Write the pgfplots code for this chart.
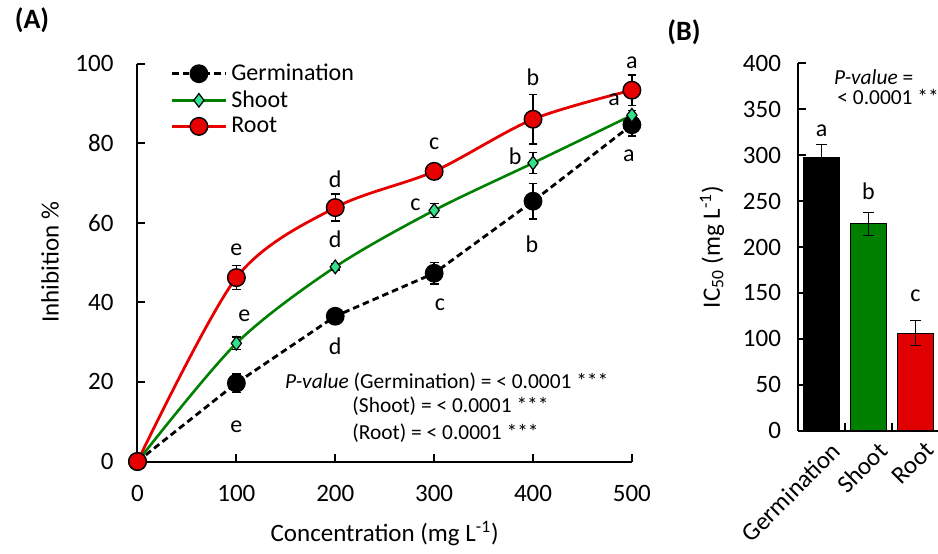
\documentclass[border=0pt]{standalone}
\usepackage{fontspec}
\setmainfont{Carlito}
\usepackage{pgfplots}
\pgfplotsset{compat=1.18}
\definecolor{rootred}{HTML}{E60000}
\definecolor{shootgreen}{HTML}{008000}
\definecolor{diamondfill}{HTML}{33E08C}
\definecolor{barred}{HTML}{E00000}
\newcommand\tk{\fontsize{12.5}{15}\selectfont}
\newcommand\lt{\fontsize{12}{14}\selectfont}
\newcommand\pv{\fontsize{10.7}{13}\selectfont}

\begin{document}
\begin{tikzpicture}
% ---- panel A: inhibition curves
\begin{axis}[
  at={(68.75pt,45.75pt)}, anchor=south west,
  scale only axis, width=247.2pt, height=199pt,
  xmin=0, xmax=500, ymin=0, ymax=100,
  xtick={0,100,...,500}, ytick={0,20,...,100},
  axis lines=left, axis line style={-, line width=1pt},
  tick align=inside, major tick length=4pt,
  tick style={black, line width=1pt},
  clip=false,
  tick label style={font=\tk},
  /pgf/number format/assume math mode=true,
  yticklabel style={xshift=-8.5pt},
  xticklabel style={yshift=-8.5pt},
  xlabel={Concentration (mg L\textsuperscript{-1})},
  xlabel style={at={(axis description cs:0.5,-0.181)}, anchor=center, font=\tk},
  ylabel={Inhibition \%},
  ylabel style={at={(axis description cs:-0.177,0.5)}, anchor=center, font=\tk},
  legend style={at={(axis description cs:0.066,1.01)}, anchor=north west,
    draw=none, fill=none, inner sep=0pt, font=\lt, row sep=-0.5pt},
  legend cell align=left,
  legend image code/.code={\draw[mark repeat=2, mark phase=2, #1]
    plot coordinates {(0pt,0pt) (13.5pt,0pt) (27pt,0pt)};},
]
\addplot[black, line width=1.4pt, dash pattern=on 3.3pt off 2pt,
  mark=*, mark size=4pt, mark options={solid, fill=black},
  error bars/.cd, y dir=both, y explicit,
  error bar style={solid, black, line width=0.7pt},
  error mark options={rotate=90, mark size=2.2pt, solid, black, line width=0.7pt}]
  coordinates {(0,0) (100,19.7) +- (0,2.3) (200,36.5) +- (0,1.5)
    (300,47.3) +- (0,2.7) (400,65.4) +- (0,4.5) (500,84.6) +- (0,2.8)};
\addlegendentry{Germination}
\addplot[shootgreen, line width=1.3pt, smooth,
  mark=diamond*, mark size=3.4pt, mark options={fill=diamondfill, draw=black, line width=0.6pt},
  error bars/.cd, y dir=both, y explicit,
  error bar style={black, line width=0.7pt},
  error mark options={rotate=90, mark size=2.2pt, black, line width=0.7pt}]
  coordinates {(0,0) (100,29.7) +- (0,1.6) (200,48.9) +- (0,0.8)
    (300,63.1) +- (0,1.8) (400,75) +- (0,2.6) (500,87) +- (0,1.2)};
\addlegendentry{Shoot}
\addplot[rootred, line width=1.4pt, smooth,
  mark=*, mark size=4.4pt, mark options={fill=rootred, draw=black, line width=0.7pt},
  error bars/.cd, y dir=both, y explicit,
  error bar style={black, line width=0.7pt},
  error mark options={rotate=90, mark size=2.2pt, black, line width=0.7pt}]
  coordinates {(0,0) (100,46.2) +- (0,3) (200,63.8) +- (0,3.4)
    (300,72.9) +- (0,1.9) (400,86) +- (0,6.2) (500,93.3) +- (0,3.8)};
\addlegendentry{Root}
% significance letters
\node[font=\lt] at (axis cs:100,53.2) {e};
\node[font=\lt] at (axis cs:200,70.8) {d};
\node[font=\lt] at (axis cs:300,79.8) {c};
\node[font=\lt] at (axis cs:400,96.6) {b};
\node[font=\lt] at (axis cs:500,100.2) {a};
\node[font=\lt] at (axis cs:108,36.7) {e};
\node[font=\lt] at (axis cs:200,55.8) {d};
\node[font=\lt] at (axis cs:281,64.4) {c};
\node[font=\lt] at (axis cs:382,76.7) {b};
\node[font=\lt] at (axis cs:482,90.8) {a};
\node[font=\lt] at (axis cs:100,8.8) {e};
\node[font=\lt] at (axis cs:200,29) {d};
\node[font=\lt] at (axis cs:306,39.5) {c};
\node[font=\lt] at (axis cs:399,54.7) {b};
\node[font=\lt] at (axis cs:497,76.8) {a};
\node[font=\pv, anchor=west, inner sep=0pt] at (axis cs:149,20) {\textit{P-value} (Germination) = < 0.0001 ***};
\node[font=\pv, anchor=west, inner sep=0pt] at (axis cs:217,13.9) {(Shoot) = < 0.0001 ***};
\node[font=\pv, anchor=west, inner sep=0pt] at (axis cs:217,7) {(Root) = < 0.0001 ***};
\end{axis}

% ---- panel B: IC50 bars
\begin{axis}[
  at={(399pt,61.15pt)}, anchor=south west,
  scale only axis, width=70.5pt, height=183.7pt,
  xmin=-0.5, xmax=2.5, ymin=0, ymax=400,
  ytick={0,50,...,400},
  xtick={0,1,2}, xticklabels={Germination,Shoot,Root},
  minor xtick={0.5,1.5},
  major x tick style={draw=none},
  axis lines=left, axis line style={-, line width=1pt},
  tick align=inside, major tick length=4pt, minor tick length=4pt,
  tick style={black, line width=1pt},
  clip=false,
  tick label style={font=\tk},
  /pgf/number format/assume math mode=true,
  yticklabel style={xshift=-5pt},
  xticklabel style={rotate=45, anchor=north east, xshift=3pt, yshift=-3pt},
  ylabel={IC\textsubscript{50} (mg L\textsuperscript{-1})},
  ylabel style={at={(axis description cs:-0.61,0.5)}, anchor=center, font=\tk},
]
\addplot[ybar, bar width=18pt, bar shift=0pt, fill=black, draw=black,
  error bars/.cd, y dir=plus, y explicit,
  error bar style={black, line width=0.7pt},
  error mark options={rotate=90, mark size=2.7pt, black, line width=0.7pt}]
  coordinates {(0,297.6) +- (0,14)};
\addplot[ybar, bar width=18pt, bar shift=0pt, fill=shootgreen, draw=black,
  error bars/.cd, y dir=both, y explicit,
  error bar style={black, line width=0.7pt},
  error mark options={rotate=90, mark size=2.7pt, black, line width=0.7pt}]
  coordinates {(1,225.3) +- (0,12.5)};
\addplot[ybar, bar width=18pt, bar shift=0pt, fill=barred, draw=black,
  error bars/.cd, y dir=both, y explicit,
  error bar style={black, line width=0.7pt},
  error mark options={rotate=90, mark size=2.7pt, black, line width=0.7pt}]
  coordinates {(2,106.3) +- (0,13.5)};
\node[font=\lt] at (axis cs:0,326.6) {a};
\node[font=\lt] at (axis cs:1,260.9) {b};
\node[font=\lt] at (axis cs:2,147) {c};
\node[font=\pv, anchor=west, inner sep=0pt] at (axis cs:0.26,384.5) {\textit{P-value} =};
\node[font=\pv, anchor=west, inner sep=0pt] at (axis cs:0.33,363.3) {< 0.0001 ***};
\end{axis}

\node[font=\fontsize{14}{16}\selectfont\bfseries] at (16pt,266.5pt) {(A)};
\node[font=\fontsize{14}{16}\selectfont\bfseries] at (342pt,260.5pt) {(B)};
\pgfresetboundingbox
\useasboundingbox (0pt,0pt) rectangle (469pt,276.5pt);
\end{tikzpicture}
\end{document}
